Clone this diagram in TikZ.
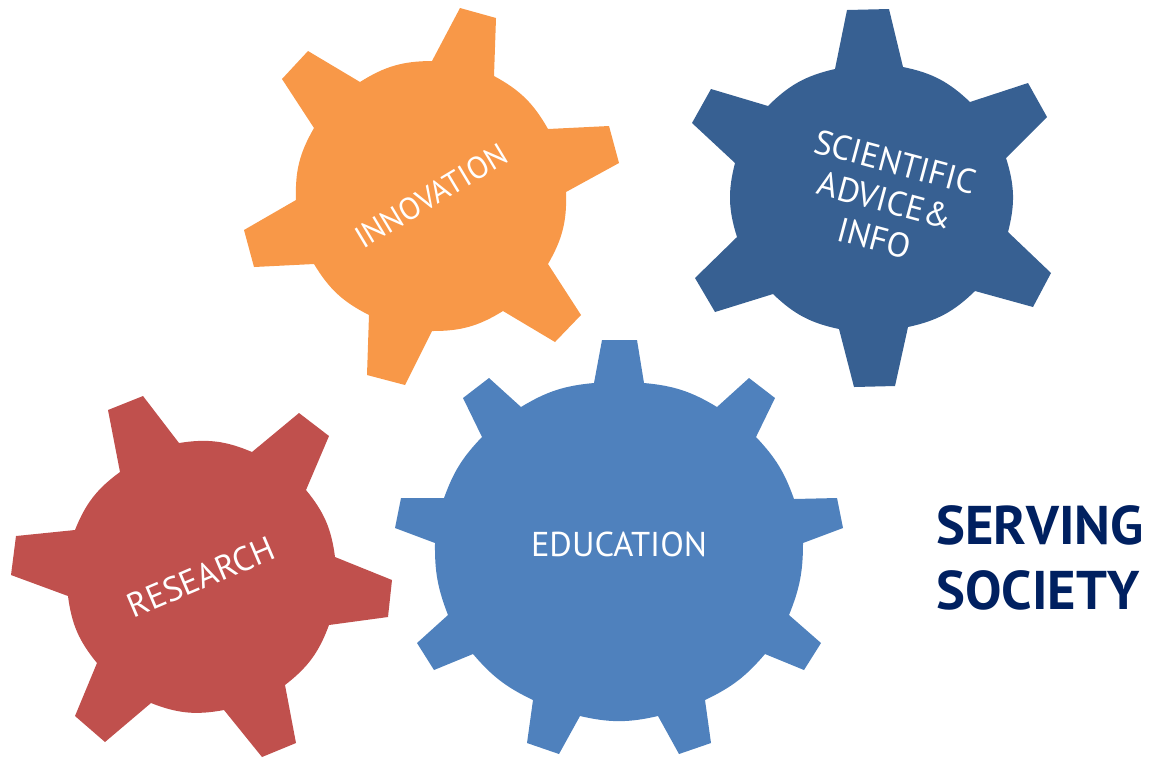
\documentclass[tikz,border=0pt]{standalone}
\usepackage{fontspec}
\setmainfont{PT Sans}
\definecolor{gearorange}{HTML}{F89848}
\definecolor{geardark}{HTML}{376092}
\definecolor{gearblue}{HTML}{4F81BD}
\definecolor{gearred}{HTML}{C0504D}
\definecolor{servingblue}{HTML}{002060}
\tikzset{
  gearlabel/.style={white,align=center,font=\fontsize{#1}{11.2}\selectfont},
  servinglabel/.style={servingblue,align=left,font=\fontsize{15.5}{18.5}\selectfont\bfseries\addfontfeature{Kerning=Off}},
  gap/.style={bend left=#1}
}
\begin{document}
\begin{tikzpicture}[x=0.01cm,y=-0.01cm]
    \useasboundingbox (0,0) rectangle (1149,757);
    \fill[gearorange] (432,61) -- (460,8) -- (496,18) -- (494,76) to[gap=16] (548,129) -- (609,126) -- (619,163) -- (566,192) to[gap=16] (548,264) -- (581,315) -- (555,342) -- (503,311) to[gap=16] (432,331) -- (405,385) -- (367,375) -- (369,315) to[gap=16] (314,264) -- (254,267) -- (244,230) -- (296,200) to[gap=16] (314,128) -- (282,79) -- (308,51) -- (360,82) to[gap=16] cycle;
    \fill[geardark] (835,69) -- (847,10) -- (889,9) -- (903,67) to[gap=16] (970,102) -- (1028,83) -- (1047,117) -- (1006,158) to[gap=16] (1008,232) -- (1051,273) -- (1033,307) -- (975,291) to[gap=16] (908,327) -- (895,386) -- (854,387) -- (839,329) to[gap=16] (773,294) -- (715,312) -- (695,278) -- (737,237) to[gap=16] (735,163) -- (692,123) -- (711,89) -- (768,106) to[gap=16] cycle;
    \fill[gearblue] (594,383) -- (602,340) -- (637,340) -- (644,383) to[gap=13] (717,407) -- (749,378) -- (775,398) -- (756,437) to[gap=12] (794,499) -- (837,498) -- (843,528) -- (803,543) to[gap=11] (789,615) -- (821,643) -- (804,670) -- (765,654) to[gap=12] (705,700) -- (711,743) -- (679,754) -- (658,716) to[gap=13] (580,716) -- (559,754) -- (527,743) -- (533,700) to[gap=12] (473,654) -- (434,670) -- (417,643) -- (448,615) to[gap=11] (435,543) -- (395,528) -- (401,498) -- (444,498) to[gap=12] (482,437) -- (463,398) -- (489,378) -- (521,407) to[gap=13] cycle;
    \fill[gearred] (120,472) -- (108,410) -- (143,396) -- (179,443) to[gap=16] (252,452) -- (299,413) -- (329,436) -- (306,490) to[gap=16] (335,557) -- (392,580) -- (388,617) -- (329,625) to[gap=16] (285,685) -- (296,743) -- (262,757) -- (224,710) to[gap=16] (151,703) -- (105,742) -- (75,716) -- (97,663) to[gap=16] (68,596) -- (11,575) -- (16,536) -- (75,530) to[gap=16] cycle;
    \node[gearlabel=8.8,rotate=31] (innovation) at (431,196) {INNOVATION};
    \node[gearlabel=9.75,rotate=-15] (advice) at (885,200) {SCIENTIFIC\\ADVICE\&\\INFO};
    \node[gearlabel=9.8] (education) at (619,544) {EDUCATION};
    \node[gearlabel=9.7,rotate=23] (research) at (201,577) {RESEARCH};
    \node[servinglabel] (serving) at (1040,558) {SERVING\\SOCIETY};
\end{tikzpicture}
\end{document}
